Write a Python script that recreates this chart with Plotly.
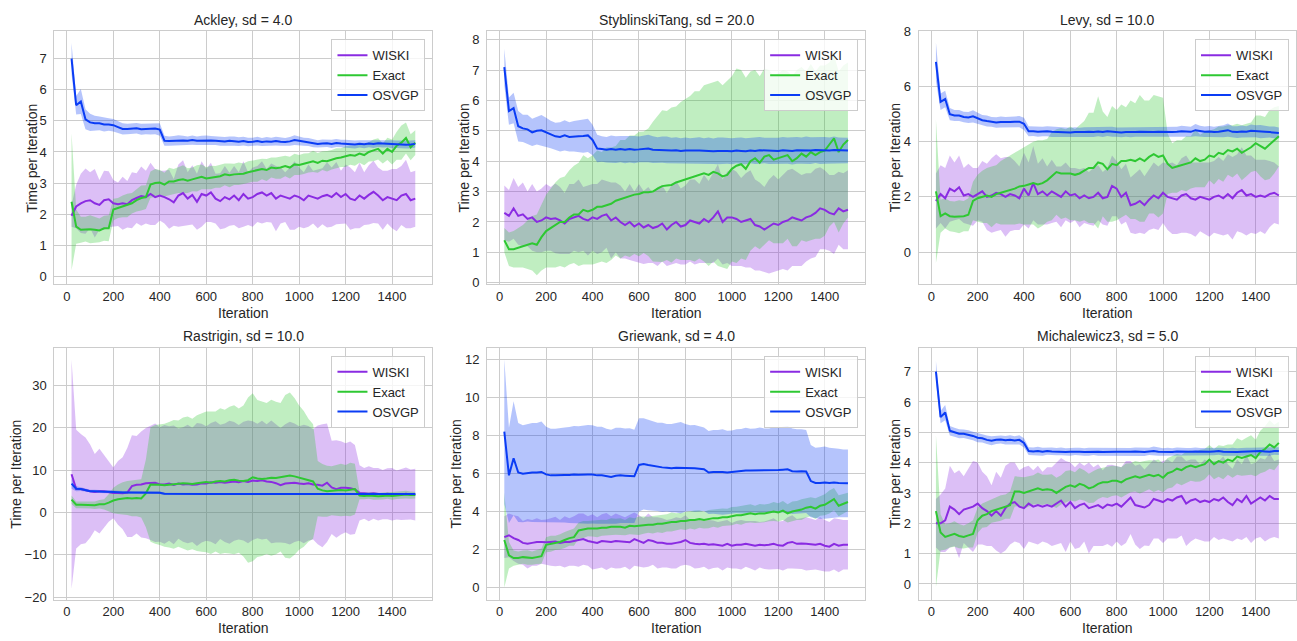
import plotly.graph_objects as go

# ---------------- data ----------------
iterations = list(range(20, 1501, 20))  # 75 points
series_names = ["WISKI", "Exact", "OSVGP"]
titles = ["Ackley, sd = 4.0", "StyblinskiTang, sd = 20.0", "Levy, sd = 10.0",
          "Rastrigin, sd = 10.0", "Griewank, sd = 4.0", "Michalewicz3, sd = 5.0"]
x_ticks = [0, 200, 400, 600, 800, 1000, 1200, 1400]
y_ticks = [[0, 1, 2, 3, 4, 5, 6, 7], [0, 1, 2, 3, 4, 5, 6, 7, 8], [0, 2, 4, 6, 8],
           [-20, -10, 0, 10, 20, 30], [0, 2, 4, 6, 8, 10, 12], [0, 1, 2, 3, 4, 5, 6, 7]]

# Ackley
ack_wiski_mean = [
    1.95, 2.25, 2.35, 2.42, 2.45, 2.35, 2.30, 2.45, 2.48, 2.35,
    2.32, 2.35, 2.32, 2.45, 2.52, 2.58, 2.55, 2.65, 2.55, 2.60,
    2.55, 2.48, 2.38, 2.60, 2.68, 2.50, 2.62, 2.40, 2.65, 2.60,
    2.70, 2.50, 2.42, 2.55, 2.48, 2.60, 2.45, 2.65, 2.50, 2.55,
    2.65, 2.70, 2.60, 2.68, 2.50, 2.60, 2.55, 2.50, 2.60, 2.55,
    2.45, 2.60, 2.55, 2.50, 2.58, 2.62, 2.55, 2.68, 2.55, 2.65,
    2.50, 2.45, 2.60, 2.50, 2.62, 2.72, 2.60, 2.45, 2.55, 2.50,
    2.45, 2.60, 2.65, 2.45, 2.50]
ack_wiski_sd = [
    0.35, 0.70, 0.95, 1.05, 0.90, 1.10, 0.80, 0.95, 0.90, 0.75,
    0.70, 0.85, 0.75, 0.90, 0.80, 0.95, 0.85, 1.00, 0.90, 0.80,
    0.85, 0.95, 0.75, 1.00, 1.05, 0.85, 0.95, 0.90, 1.05, 0.85,
    0.95, 0.80, 0.90, 1.00, 0.85, 0.95, 0.90, 1.05, 0.85, 0.95,
    0.90, 1.00, 0.85, 0.95, 1.05, 0.90, 0.80, 1.00, 1.10, 0.95,
    0.90, 1.00, 0.85, 0.95, 0.90, 1.05, 0.95, 1.00, 0.85, 0.95,
    1.00, 0.90, 1.05, 0.85, 0.95, 1.00, 0.90, 0.95, 0.85, 0.95,
    1.00, 0.95, 1.10, 0.90, 0.90]
ack_exact_mean = [
    2.40, 1.60, 1.50, 1.52, 1.52, 1.50, 1.48, 1.55, 1.55, 2.15,
    2.20, 2.25, 2.28, 2.35, 2.45, 2.52, 2.55, 2.95, 3.00, 3.02,
    2.95, 3.05, 3.05, 3.10, 3.12, 3.08, 3.12, 3.15, 3.20, 3.15,
    3.18, 3.20, 3.22, 3.28, 3.25, 3.28, 3.30, 3.30, 3.35, 3.38,
    3.40, 3.45, 3.42, 3.50, 3.48, 3.50, 3.55, 3.50, 3.60, 3.58,
    3.62, 3.65, 3.70, 3.65, 3.72, 3.70, 3.75, 3.80, 3.82, 3.85,
    3.90, 3.88, 3.95, 3.90, 4.00, 4.05, 4.10, 3.95, 4.10, 4.00,
    4.20, 4.30, 4.45, 4.15, 4.30]
ack_exact_sd = [
    2.20, 0.55, 0.42, 0.40, 0.45, 0.42, 0.38, 0.40, 0.42, 0.35,
    0.32, 0.35, 0.38, 0.33, 0.36, 0.40, 0.38, 0.42, 0.45, 0.40,
    0.38, 0.44, 0.40, 0.42, 0.45, 0.40, 0.38, 0.42, 0.40, 0.36,
    0.38, 0.35, 0.37, 0.35, 0.38, 0.34, 0.36, 0.33, 0.35, 0.34,
    0.36, 0.33, 0.35, 0.32, 0.34, 0.36, 0.33, 0.35, 0.34, 0.32,
    0.33, 0.31, 0.34, 0.32, 0.30, 0.33, 0.31, 0.32, 0.30, 0.33,
    0.31, 0.32, 0.30, 0.33, 0.31, 0.35, 0.34, 0.32, 0.36, 0.40,
    0.45, 0.55, 0.50, 0.42, 0.40]
ack_osvgp_mean = [
    7.00, 5.50, 5.62, 5.05, 4.95, 4.92, 4.92, 4.88, 4.88, 4.86,
    4.80, 4.74, 4.74, 4.75, 4.76, 4.73, 4.74, 4.74, 4.75, 4.72,
    4.36, 4.35, 4.36, 4.38, 4.37, 4.36, 4.38, 4.36, 4.37, 4.38,
    4.37, 4.36, 4.35, 4.34, 4.36, 4.35, 4.33, 4.35, 4.32, 4.33,
    4.35, 4.32, 4.34, 4.33, 4.35, 4.33, 4.32, 4.34, 4.38, 4.36,
    4.33, 4.32, 4.28, 4.26, 4.27, 4.28, 4.26, 4.29, 4.27, 4.26,
    4.25, 4.24, 4.26, 4.25, 4.27, 4.26, 4.28, 4.27, 4.27, 4.25,
    4.25, 4.24, 4.23, 4.24, 4.26]
ack_osvgp_sd = [
    0.50, 0.30, 0.40, 0.32, 0.28, 0.24, 0.22, 0.22, 0.20, 0.20,
    0.18, 0.18, 0.17, 0.18, 0.17, 0.18, 0.17, 0.18, 0.18, 0.20,
    0.16, 0.15, 0.15, 0.16, 0.15, 0.14, 0.15, 0.14, 0.15, 0.15,
    0.14, 0.14, 0.15, 0.14, 0.14, 0.15, 0.14, 0.14, 0.14, 0.13,
    0.14, 0.13, 0.14, 0.13, 0.14, 0.13, 0.13, 0.14, 0.16, 0.14,
    0.13, 0.13, 0.13, 0.12, 0.13, 0.12, 0.13, 0.13, 0.12, 0.13,
    0.12, 0.13, 0.12, 0.13, 0.12, 0.13, 0.12, 0.13, 0.12, 0.13,
    0.12, 0.13, 0.12, 0.13, 0.12]

# StyblinskiTang
st_wiski_mean = [
    2.30, 2.20, 2.45, 2.20, 2.25, 2.10, 2.15, 2.00, 2.05, 2.15,
    2.10, 2.12, 2.05, 1.95, 2.10, 2.15, 2.20, 2.10, 2.05, 2.15,
    2.10, 2.20, 2.25, 2.05, 2.15, 2.00, 1.90, 2.00, 1.85, 1.95,
    1.82, 1.90, 1.80, 1.85, 1.95, 1.75, 1.90, 2.00, 1.85, 1.90,
    2.05, 2.00, 1.95, 2.10, 2.00, 2.15, 2.35, 2.00, 2.15, 2.15,
    2.10, 2.00, 2.05, 2.10, 1.90, 1.85, 1.75, 1.85, 1.95, 1.90,
    2.00, 2.05, 2.15, 2.10, 2.05, 2.15, 2.20, 2.30, 2.45, 2.40,
    2.30, 2.25, 2.45, 2.35, 2.40]
st_wiski_sd = [
    0.90, 0.85, 1.00, 0.95, 1.05, 0.90, 1.10, 1.00, 1.05, 1.10,
    1.05, 1.15, 1.10, 1.00, 1.15, 1.10, 1.20, 1.05, 1.15, 1.10,
    1.15, 1.20, 1.10, 1.25, 1.15, 1.20, 1.10, 1.25, 1.15, 1.30,
    1.20, 1.25, 1.15, 1.30, 1.25, 1.20, 1.30, 1.35, 1.25, 1.30,
    1.35, 1.40, 1.30, 1.45, 1.35, 1.50, 1.55, 1.40, 1.50, 1.60,
    1.55, 1.45, 1.55, 1.60, 1.50, 1.45, 1.40, 1.55, 1.60, 1.50,
    1.55, 1.65, 1.60, 1.55, 1.50, 1.45, 1.40, 1.45, 1.35, 1.30,
    1.25, 1.30, 1.20, 1.25, 1.30]
st_exact_mean = [
    1.40, 1.10, 1.10, 1.15, 1.20, 1.25, 1.30, 1.25, 1.50, 1.70,
    1.80, 1.90, 2.00, 2.00, 2.15, 2.25, 2.25, 2.40, 2.35, 2.40,
    2.50, 2.50, 2.55, 2.60, 2.70, 2.75, 2.80, 2.85, 2.90, 2.92,
    2.98, 2.98, 3.00, 3.10, 3.18, 3.20, 3.22, 3.30, 3.35, 3.40,
    3.45, 3.50, 3.55, 3.60, 3.55, 3.65, 3.60, 3.50, 3.55, 3.75,
    3.85, 3.90, 3.75, 4.00, 4.10, 3.95, 4.15, 4.20, 4.05, 4.10,
    4.15, 4.20, 4.00, 4.10, 4.25, 4.15, 4.30, 4.20, 4.30, 4.35,
    4.55, 4.75, 4.30, 4.55, 4.70]
st_exact_sd = [
    0.40, 0.55, 0.60, 0.65, 0.70, 0.80, 0.90, 1.00, 1.10, 1.20,
    1.30, 1.40, 1.45, 1.50, 1.55, 1.60, 1.70, 1.80, 1.75, 1.80,
    1.85, 1.80, 1.90, 1.85, 1.80, 1.95, 1.90, 2.00, 1.95, 2.05,
    2.00, 2.10, 2.30, 2.40, 2.50, 2.45, 2.55, 2.50, 2.60, 2.65,
    2.70, 2.80, 2.75, 2.90, 3.00, 2.95, 3.05, 3.00, 3.10, 3.05,
    3.20, 3.10, 3.00, 2.95, 2.90, 2.85, 2.90, 2.80, 2.75, 2.80,
    2.85, 2.75, 2.80, 2.90, 2.85, 2.80, 2.90, 2.75, 2.85, 2.80,
    2.70, 2.75, 2.65, 2.60, 2.55]
st_osvgp_mean = [
    7.10, 5.65, 5.75, 5.15, 5.08, 5.05, 4.95, 5.00, 5.02, 4.95,
    4.88, 4.82, 4.80, 4.85, 4.80, 4.82, 4.82, 4.83, 4.85, 4.70,
    4.42, 4.40, 4.38, 4.40, 4.38, 4.40, 4.38, 4.40, 4.38, 4.39,
    4.40, 4.42, 4.38, 4.37, 4.38, 4.37, 4.35, 4.36, 4.34, 4.35,
    4.34, 4.35, 4.35, 4.34, 4.35, 4.33, 4.34, 4.35, 4.34, 4.33,
    4.35, 4.34, 4.33, 4.35, 4.34, 4.36, 4.35, 4.34, 4.35, 4.34,
    4.36, 4.35, 4.34, 4.36, 4.35, 4.36, 4.35, 4.37, 4.36, 4.36,
    4.35, 4.37, 4.36, 4.35, 4.35]
st_osvgp_sd = [
    0.60, 0.45, 0.50, 0.50, 0.45, 0.48, 0.45, 0.45, 0.50, 0.48,
    0.45, 0.45, 0.48, 0.50, 0.48, 0.50, 0.52, 0.55, 0.55, 0.50,
    0.45, 0.42, 0.42, 0.45, 0.44, 0.43, 0.45, 0.44, 0.45, 0.42,
    0.43, 0.45, 0.44, 0.42, 0.43, 0.44, 0.42, 0.43, 0.42, 0.43,
    0.42, 0.43, 0.44, 0.42, 0.43, 0.42, 0.44, 0.43, 0.42, 0.43,
    0.42, 0.44, 0.43, 0.42, 0.43, 0.44, 0.42, 0.43, 0.44, 0.43,
    0.44, 0.43, 0.45, 0.44, 0.43, 0.45, 0.44, 0.43, 0.45, 0.44,
    0.43, 0.44, 0.42, 0.43, 0.42]

# Levy
lv_wiski_mean = [
    1.85, 2.10, 1.95, 2.30, 2.20, 2.35, 2.05, 2.10, 2.00, 2.10,
    2.20, 2.00, 2.05, 2.15, 2.10, 2.00, 2.10, 2.05, 1.95, 2.30,
    2.05, 2.50, 2.10, 2.20, 2.05, 2.20, 2.10, 2.00, 2.20, 2.05,
    2.10, 1.95, 2.05, 1.95, 2.00, 2.15, 1.95, 2.00, 2.40, 2.30,
    2.00, 2.15, 1.70, 1.75, 1.85, 1.70, 1.90, 2.05, 1.95, 2.15,
    2.00, 1.95, 1.90, 2.05, 2.10, 1.95, 1.90, 2.00, 1.95, 1.90,
    2.00, 2.05, 1.95, 2.10, 1.95, 2.15, 2.25, 2.05, 2.10, 2.00,
    2.05, 2.00, 2.10, 2.15, 2.05]
lv_wiski_sd = [
    1.00, 1.05, 1.10, 1.20, 1.05, 1.15, 1.00, 1.10, 1.05, 0.95,
    1.10, 1.20, 1.35, 1.40, 1.30, 1.45, 1.35, 1.25, 1.15, 1.30,
    1.20, 1.35, 1.10, 1.20, 1.05, 1.15, 1.00, 1.10, 1.05, 1.00,
    0.95, 1.05, 1.00, 0.95, 1.05, 1.00, 0.95, 1.05, 1.10, 1.00,
    1.00, 1.05, 1.00, 1.10, 1.15, 1.05, 1.10, 1.20, 1.15, 1.10,
    1.20, 1.30, 1.25, 1.35, 1.40, 1.30, 1.35, 1.25, 1.30, 1.35,
    1.30, 1.40, 1.35, 1.45, 1.50, 1.40, 1.55, 1.45, 1.40, 1.35,
    1.30, 1.35, 1.20, 1.10, 1.05]
lv_exact_mean = [
    2.20, 1.30, 1.40, 1.30, 1.28, 1.28, 1.30, 1.35, 1.85, 1.95,
    2.00, 2.05, 2.00, 2.10, 2.15, 2.20, 2.25, 2.30, 2.38, 2.40,
    2.45, 2.50, 2.45, 2.50, 2.60, 2.75, 2.90, 2.85, 2.85, 2.85,
    2.80, 2.85, 2.95, 3.05, 3.05, 3.25, 3.20, 3.00, 3.20, 3.15,
    3.30, 3.30, 3.35, 3.30, 3.40, 3.30, 3.45, 3.55, 3.45, 3.50,
    3.20, 3.05, 3.10, 3.15, 3.20, 3.25, 3.40, 3.30, 3.35, 3.50,
    3.45, 3.60, 3.55, 3.70, 3.65, 3.75, 3.60, 3.70, 3.80, 3.95,
    3.85, 3.75, 3.90, 4.05, 4.20]
lv_exact_sd = [
    2.60, 0.60, 0.55, 0.55, 0.55, 0.60, 0.55, 0.60, 0.70, 0.85,
    0.95, 1.00, 1.10, 1.05, 1.15, 1.20, 1.25, 1.30, 1.35, 1.40,
    1.45, 1.50, 1.60, 1.55, 1.50, 1.60, 1.55, 1.65, 1.60, 1.70,
    1.65, 1.75, 1.80, 2.00, 2.00, 2.40, 1.90, 1.90, 2.10, 2.00,
    2.05, 1.95, 2.15, 2.10, 2.30, 2.20, 2.05, 2.15, 2.20, 2.10,
    1.10, 0.90, 0.95, 0.90, 1.00, 0.95, 1.05, 0.95, 1.00, 0.90,
    1.00, 0.95, 1.00, 0.90, 0.95, 0.90, 1.00, 0.95, 0.90, 1.00,
    1.10, 1.15, 1.25, 1.20, 1.10]
lv_osvgp_mean = [
    6.90, 5.45, 5.55, 5.00, 4.95, 4.95, 4.90, 4.88, 4.92, 4.85,
    4.78, 4.75, 4.72, 4.70, 4.72, 4.71, 4.72, 4.73, 4.73, 4.65,
    4.38, 4.38, 4.36, 4.37, 4.38, 4.36, 4.35, 4.36, 4.35, 4.34,
    4.35, 4.34, 4.35, 4.36, 4.35, 4.37, 4.35, 4.38, 4.36, 4.35,
    4.34, 4.35, 4.34, 4.35, 4.36, 4.35, 4.34, 4.35, 4.36, 4.35,
    4.34, 4.35, 4.36, 4.38, 4.37, 4.36, 4.42, 4.38, 4.36, 4.37,
    4.35, 4.36, 4.38, 4.42, 4.36, 4.35, 4.37, 4.36, 4.40, 4.38,
    4.37, 4.36, 4.35, 4.34, 4.32]
lv_osvgp_sd = [
    0.70, 0.30, 0.30, 0.22, 0.20, 0.20, 0.19, 0.20, 0.22, 0.20,
    0.19, 0.20, 0.18, 0.19, 0.20, 0.19, 0.18, 0.19, 0.20, 0.22,
    0.18, 0.17, 0.18, 0.17, 0.18, 0.19, 0.18, 0.17, 0.18, 0.17,
    0.18, 0.17, 0.18, 0.17, 0.18, 0.17, 0.18, 0.17, 0.18, 0.17,
    0.18, 0.17, 0.18, 0.17, 0.18, 0.17, 0.18, 0.17, 0.18, 0.17,
    0.18, 0.17, 0.18, 0.20, 0.19, 0.18, 0.22, 0.20, 0.19, 0.20,
    0.19, 0.20, 0.22, 0.24, 0.20, 0.21, 0.22, 0.20, 0.23, 0.22,
    0.24, 0.22, 0.20, 0.21, 0.20]

# Rastrigin
ra_wiski_mean = [
    9.00, 5.50, 5.50, 5.20, 5.00, 4.80, 5.00, 5.00, 4.80, 4.60,
    4.60, 4.50, 4.70, 6.20, 6.50, 6.60, 6.90, 7.00, 7.00, 6.60,
    6.60, 6.80, 6.50, 6.80, 6.60, 6.70, 6.50, 6.60, 6.90, 6.80,
    7.10, 7.00, 7.20, 7.00, 7.10, 7.30, 7.10, 7.40, 7.20, 7.50,
    7.40, 7.60, 7.30, 7.20, 6.90, 6.40, 6.80, 6.90, 7.00, 6.80,
    6.70, 6.90, 6.60, 6.50, 6.30, 7.00, 5.90, 5.50, 5.80, 5.80,
    5.70, 5.40, 4.60, 4.50, 4.40, 4.50, 4.30, 4.20, 4.40, 4.30,
    4.10, 4.20, 4.40, 4.20, 4.20]
ra_wiski_sd = [
    27.0, 14.0, 13.0, 12.5, 11.0, 9.00, 10.0, 8.50, 7.00, 6.00,
    7.50, 8.50, 10.5, 12.0, 11.5, 12.5, 13.0, 13.5, 14.0, 13.5,
    14.0, 13.5, 14.0, 13.0, 13.5, 14.0, 13.5, 14.5, 14.0, 13.5,
    14.0, 14.5, 13.5, 14.0, 14.5, 14.0, 13.5, 14.0, 14.5, 14.0,
    13.5, 14.0, 13.5, 14.5, 14.0, 13.5, 14.0, 14.5, 14.0, 13.5,
    14.0, 13.5, 13.0, 14.0, 14.5, 14.0, 11.0, 11.5, 11.0, 10.5,
    11.0, 10.5, 6.50, 6.00, 6.50, 6.00, 6.20, 5.80, 6.00, 6.20,
    5.80, 6.00, 6.20, 5.90, 6.10]
ra_exact_mean = [
    3.00, 1.80, 1.80, 1.80, 1.80, 1.70, 1.90, 1.90, 2.30, 2.80,
    3.10, 3.30, 3.40, 3.30, 3.40, 3.30, 4.50, 6.60, 6.60, 6.50,
    6.40, 6.50, 6.60, 6.80, 6.90, 6.80, 6.70, 6.90, 7.00, 7.20,
    7.00, 7.30, 7.40, 7.30, 7.60, 7.70, 7.50, 7.40, 7.60, 8.30,
    8.00, 7.90, 8.00, 8.20, 8.10, 8.30, 8.50, 8.70, 8.50, 8.20,
    7.90, 7.60, 7.30, 5.60, 5.20, 5.00, 5.10, 5.20, 5.30, 5.20,
    5.40, 5.50, 4.00, 3.90, 4.00, 3.90, 3.80, 3.90, 4.00, 3.90,
    4.00, 4.10, 4.20, 4.10, 4.10]
ra_exact_sd = [
    1.00, 0.80, 0.80, 0.80, 0.90, 0.90, 1.00, 1.20, 2.00, 3.00,
    3.50, 3.80, 4.00, 4.20, 4.30, 4.50, 8.00, 13.5, 14.0, 14.2,
    14.5, 14.8, 15.2, 14.9, 15.5, 15.8, 15.4, 16.0, 16.3, 16.6,
    16.8, 16.5, 17.2, 16.9, 17.3, 17.6, 17.0, 17.8, 19.5, 19.8,
    18.5, 18.2, 17.8, 18.4, 18.0, 17.5, 19.2, 19.6, 18.5, 17.0,
    16.0, 14.5, 13.5, 6.50, 6.20, 6.00, 5.80, 6.00, 6.20, 6.00,
    6.30, 6.00, 0.90, 0.80, 0.80, 0.90, 0.80, 0.85, 0.80, 0.90,
    0.85, 0.80, 0.90, 0.85, 0.80]
ra_osvgp_mean = [
    6.80, 5.60, 5.50, 5.30, 5.00, 5.00, 4.90, 4.90, 4.90, 4.80,
    4.75, 4.72, 4.70, 4.70, 4.72, 4.70, 4.70, 4.72, 4.70, 4.65,
    4.38, 4.36, 4.35, 4.36, 4.35, 4.34, 4.35, 4.36, 4.35, 4.34,
    4.35, 4.34, 4.35, 4.36, 4.35, 4.34, 4.35, 4.36, 4.35, 4.34,
    4.35, 4.34, 4.35, 4.36, 4.35, 4.34, 4.35, 4.36, 4.35, 4.34,
    4.35, 4.34, 4.35, 4.36, 4.35, 4.34, 4.35, 4.36, 4.35, 4.34,
    4.35, 4.34, 4.35, 4.36, 4.35, 4.34, 4.35, 4.36, 4.35, 4.34,
    4.35, 4.34, 4.35, 4.36, 4.35]
ra_osvgp_sd = [
    1.20, 0.60, 0.45, 0.40, 0.35, 0.35, 0.30, 0.30, 0.30, 0.30,
    0.30, 0.30, 0.28, 0.28, 0.28, 0.28, 0.28, 0.28, 0.28, 0.28,
    0.25, 0.25, 0.25, 0.25, 0.25, 0.25, 0.25, 0.25, 0.25, 0.25,
    0.25, 0.25, 0.25, 0.25, 0.25, 0.25, 0.25, 0.25, 0.25, 0.25,
    0.25, 0.25, 0.25, 0.25, 0.25, 0.25, 0.25, 0.25, 0.25, 0.25,
    0.25, 0.25, 0.25, 0.25, 0.25, 0.25, 0.25, 0.25, 0.25, 0.25,
    0.25, 0.25, 0.25, 0.25, 0.25, 0.25, 0.25, 0.25, 0.25, 0.25,
    0.25, 0.25, 0.25, 0.25, 0.25]

# Griewank
gr_wiski_mean = [
    2.65, 2.75, 2.60, 2.50, 2.35, 2.30, 2.35, 2.40, 2.40, 2.38,
    2.40, 2.42, 2.35, 2.40, 2.40, 2.45, 2.50, 2.55, 2.45, 2.40,
    2.35, 2.45, 2.42, 2.40, 2.45, 2.42, 2.40, 2.38, 2.55, 2.45,
    2.35, 2.50, 2.45, 2.35, 2.35, 2.30, 2.30, 2.35, 2.40, 2.50,
    2.35, 2.30, 2.28, 2.30, 2.25, 2.28, 2.25, 2.20, 2.30, 2.20,
    2.25, 2.25, 2.30, 2.25, 2.20, 2.25, 2.22, 2.25, 2.30, 2.22,
    2.20, 2.35, 2.40, 2.30, 2.32, 2.30, 2.28, 2.25, 2.30, 2.20,
    2.15, 2.30, 2.20, 2.25, 2.25]
gr_wiski_sd = [
    1.10, 1.15, 1.20, 1.25, 1.15, 1.30, 1.20, 1.25, 1.15, 1.20,
    1.25, 1.30, 1.20, 1.35, 1.25, 1.30, 1.40, 1.35, 1.30, 1.45,
    1.35, 1.40, 1.50, 1.35, 1.45, 1.40, 1.30, 1.45, 1.40, 1.35,
    1.30, 1.40, 1.25, 1.35, 1.30, 1.25, 1.30, 1.35, 1.25, 1.30,
    1.20, 1.30, 1.25, 1.20, 1.30, 1.25, 1.20, 1.30, 1.25, 1.20,
    1.25, 1.30, 1.20, 1.25, 1.30, 1.20, 1.25, 1.30, 1.35, 1.25,
    1.30, 1.35, 1.40, 1.30, 1.35, 1.40, 1.35, 1.30, 1.40, 1.35,
    1.30, 1.35, 1.40, 1.30, 1.30]
gr_exact_mean = [
    2.50, 1.70, 1.55, 1.55, 1.60, 1.58, 1.55, 1.60, 1.65, 2.25,
    2.30, 2.35, 2.40, 2.50, 2.60, 2.65, 3.00, 3.05, 3.10, 3.10,
    3.10, 3.15, 3.15, 3.20, 3.20, 3.20, 3.15, 3.25, 3.22, 3.25,
    3.28, 3.30, 3.30, 3.35, 3.35, 3.40, 3.45, 3.45, 3.50, 3.50,
    3.55, 3.55, 3.60, 3.55, 3.60, 3.65, 3.65, 3.70, 3.70, 3.75,
    3.80, 3.80, 3.85, 3.90, 3.85, 3.90, 3.90, 3.95, 4.00, 3.95,
    4.05, 3.90, 4.00, 4.05, 4.10, 4.20, 4.25, 4.15, 4.30, 4.35,
    4.50, 4.65, 4.30, 4.40, 4.50]
gr_exact_sd = [
    2.50, 0.70, 0.40, 0.35, 0.35, 0.38, 0.35, 0.36, 0.40, 0.40,
    0.42, 0.38, 0.40, 0.42, 0.40, 0.45, 0.42, 0.45, 0.40, 0.42,
    0.45, 0.42, 0.40, 0.45, 0.42, 0.44, 0.40, 0.45, 0.42, 0.48,
    0.45, 0.42, 0.46, 0.44, 0.48, 0.45, 0.50, 0.46, 0.44, 0.48,
    0.45, 0.50, 0.46, 0.44, 0.48, 0.45, 0.50, 0.46, 0.44, 0.48,
    0.45, 0.50, 0.46, 0.48, 0.45, 0.50, 0.47, 0.46, 0.50, 0.48,
    0.50, 0.48, 0.52, 0.50, 0.55, 0.52, 0.50, 0.55, 0.52, 0.55,
    0.60, 0.58, 0.55, 0.50, 0.48]
gr_osvgp_mean = [
    8.20, 5.90, 6.80, 6.05, 5.98, 6.02, 6.05, 6.05, 6.08, 5.95,
    5.90, 5.90, 5.92, 5.92, 5.92, 5.95, 5.93, 5.95, 5.95, 5.95,
    5.90, 5.90, 5.85, 5.82, 5.88, 5.90, 5.88, 5.88, 5.85, 6.45,
    6.50, 6.45, 6.40, 6.35, 6.32, 6.30, 6.28, 6.30, 6.30, 6.30,
    6.28, 6.27, 6.25, 6.22, 6.05, 6.08, 6.07, 6.08, 6.05, 6.08,
    6.12, 6.12, 6.15, 6.15, 6.15, 6.17, 6.15, 6.17, 6.18, 6.18,
    6.20, 6.22, 6.12, 6.10, 6.12, 6.10, 5.60, 5.50, 5.50, 5.52,
    5.50, 5.52, 5.50, 5.48, 5.48]
gr_osvgp_sd = [
    3.80, 2.50, 3.00, 2.60, 2.55, 2.55, 2.60, 2.60, 2.65, 2.50,
    2.45, 2.45, 2.48, 2.50, 2.52, 2.55, 2.55, 2.58, 2.60, 2.58,
    2.55, 2.55, 2.50, 2.48, 2.52, 2.50, 2.48, 2.50, 2.45, 2.45,
    2.40, 2.38, 2.35, 2.32, 2.35, 2.30, 2.32, 2.35, 2.40, 2.30,
    2.25, 2.28, 2.25, 2.20, 2.18, 2.20, 2.22, 2.25, 2.20, 2.18,
    2.20, 2.22, 2.25, 2.20, 2.22, 2.25, 2.22, 2.20, 2.25, 2.22,
    2.25, 2.28, 2.25, 2.22, 2.20, 2.18, 1.90, 1.85, 1.88, 1.90,
    1.85, 1.82, 1.80, 1.78, 1.78]

# Michalewicz3
mi_wiski_mean = [
    2.00, 2.00, 2.10, 2.55, 2.45, 2.30, 2.45, 2.50, 2.55, 2.65,
    2.50, 2.40, 2.25, 2.40, 2.25, 2.50, 2.65, 2.70, 2.55, 2.50,
    2.65, 2.55, 2.60, 2.55, 2.60, 2.55, 2.65, 2.75, 2.55, 2.70,
    2.50, 2.60, 2.65, 2.50, 2.55, 2.60, 2.50, 2.62, 2.58, 2.65,
    2.55, 2.70, 2.85, 2.60, 2.55, 2.52, 2.60, 2.80, 2.75, 2.70,
    2.80, 2.75, 2.85, 2.90, 2.65, 2.75, 2.80, 2.70, 2.75, 2.70,
    2.80, 2.75, 2.85, 2.70, 2.60, 2.80, 2.70, 2.90, 2.65, 2.75,
    2.85, 2.75, 2.90, 2.80, 2.80]
mi_wiski_sd = [
    0.80, 0.95, 1.05, 1.35, 1.20, 1.45, 1.10, 1.30, 1.50, 1.35,
    1.20, 1.15, 1.00, 1.30, 1.25, 1.40, 1.35, 1.30, 1.20, 1.35,
    1.25, 1.20, 1.30, 1.15, 1.25, 1.30, 1.35, 1.40, 1.50, 1.30,
    1.35, 1.40, 1.25, 1.50, 1.30, 1.35, 1.25, 1.30, 1.35, 1.25,
    1.30, 1.35, 1.20, 1.30, 1.40, 1.25, 1.35, 1.30, 1.25, 1.35,
    1.30, 1.25, 1.35, 1.30, 1.40, 1.35, 1.30, 1.25, 1.35, 1.30,
    1.25, 1.30, 1.35, 1.25, 1.20, 1.30, 1.25, 1.35, 1.30, 1.25,
    1.30, 1.35, 1.40, 1.25, 1.30]
mi_exact_mean = [
    2.40, 1.70, 1.55, 1.60, 1.65, 1.58, 1.55, 1.60, 1.65, 2.10,
    2.25, 2.30, 2.40, 2.45, 2.50, 2.55, 2.60, 3.05, 3.05, 3.00,
    3.05, 3.10, 3.15, 3.10, 3.12, 3.10, 3.00, 3.10, 3.20, 3.25,
    3.20, 3.30, 3.25, 3.15, 3.20, 3.30, 3.35, 3.35, 3.40, 3.40,
    3.35, 3.45, 3.50, 3.55, 3.50, 3.55, 3.60, 3.55, 3.60, 3.50,
    3.65, 3.70, 3.80, 3.75, 3.85, 3.90, 3.85, 3.90, 3.95, 4.10,
    3.95, 4.05, 4.00, 4.10, 4.05, 4.20, 4.15, 4.20, 4.25, 4.15,
    4.35, 4.45, 4.60, 4.50, 4.65]
mi_exact_sd = [
    2.50, 0.60, 0.42, 0.40, 0.42, 0.40, 0.38, 0.40, 0.45, 0.42,
    0.40, 0.42, 0.38, 0.40, 0.42, 0.40, 0.45, 0.50, 0.48, 0.52,
    0.50, 0.48, 0.52, 0.50, 0.48, 0.52, 0.50, 0.48, 0.52, 0.50,
    0.48, 0.52, 0.50, 0.48, 0.52, 0.50, 0.48, 0.52, 0.50, 0.48,
    0.50, 0.52, 0.48, 0.50, 0.52, 0.50, 0.48, 0.52, 0.50, 0.48,
    0.50, 0.52, 0.48, 0.50, 0.52, 0.50, 0.48, 0.52, 0.50, 0.48,
    0.50, 0.52, 0.55, 0.50, 0.55, 0.60, 0.58, 0.62, 0.65, 0.60,
    0.70, 0.75, 0.80, 0.75, 0.70]
mi_osvgp_mean = [
    7.00, 5.50, 5.65, 5.05, 5.00, 4.95, 4.95, 4.92, 4.88, 4.82,
    4.80, 4.75, 4.72, 4.75, 4.76, 4.74, 4.75, 4.73, 4.75, 4.65,
    4.38, 4.37, 4.38, 4.36, 4.38, 4.37, 4.36, 4.37, 4.35, 4.36,
    4.37, 4.36, 4.35, 4.36, 4.37, 4.36, 4.35, 4.36, 4.35, 4.36,
    4.36, 4.35, 4.36, 4.37, 4.36, 4.35, 4.37, 4.38, 4.36, 4.35,
    4.36, 4.35, 4.37, 4.36, 4.35, 4.36, 4.37, 4.36, 4.35, 4.36,
    4.37, 4.38, 4.36, 4.35, 4.36, 4.35, 4.36, 4.37, 4.36, 4.37,
    4.38, 4.37, 4.36, 4.38, 4.38]
mi_osvgp_sd = [
    0.35, 0.20, 0.25, 0.16, 0.15, 0.15, 0.14, 0.15, 0.14, 0.15,
    0.14, 0.14, 0.15, 0.14, 0.13, 0.14, 0.15, 0.14, 0.15, 0.15,
    0.13, 0.13, 0.14, 0.13, 0.12, 0.13, 0.12, 0.13, 0.12, 0.13,
    0.12, 0.13, 0.12, 0.13, 0.12, 0.13, 0.12, 0.13, 0.12, 0.13,
    0.12, 0.13, 0.12, 0.13, 0.14, 0.13, 0.12, 0.15, 0.13, 0.12,
    0.13, 0.12, 0.13, 0.12, 0.13, 0.12, 0.13, 0.12, 0.13, 0.12,
    0.13, 0.12, 0.13, 0.12, 0.13, 0.12, 0.13, 0.12, 0.13, 0.12,
    0.13, 0.12, 0.13, 0.12, 0.13]

panel_data = [
    [(ack_wiski_mean, ack_wiski_sd), (ack_exact_mean, ack_exact_sd), (ack_osvgp_mean, ack_osvgp_sd)],
    [(st_wiski_mean, st_wiski_sd), (st_exact_mean, st_exact_sd), (st_osvgp_mean, st_osvgp_sd)],
    [(lv_wiski_mean, lv_wiski_sd), (lv_exact_mean, lv_exact_sd), (lv_osvgp_mean, lv_osvgp_sd)],
    [(ra_wiski_mean, ra_wiski_sd), (ra_exact_mean, ra_exact_sd), (ra_osvgp_mean, ra_osvgp_sd)],
    [(gr_wiski_mean, gr_wiski_sd), (gr_exact_mean, gr_exact_sd), (gr_osvgp_mean, gr_osvgp_sd)],
    [(mi_wiski_mean, mi_wiski_sd), (mi_exact_mean, mi_exact_sd), (mi_osvgp_mean, mi_osvgp_sd)],
]

# ---------------- style / layout ----------------
W, H = 1297, 641
COLS = [(54.4, 432.8), (487.5, 865.8), (919.5, 1297.0)]
ROWS = [(25.0, 283.0), (348.0, 605.0)]
Y_RANGES = [[-0.25, 7.87], [-0.05, 8.27], [-1.17, 8.0],
            [-20.6, 38.8], [-0.64, 12.6], [-0.52, 7.78]]
X_RANGE = [-54, 1574]
YTITLE_X = [32, 464, 896, 16, 456, 896]
LINE_COLORS = ["#8a2be2", "#2ec832", "#0a3cf5"]
FILL_COLORS = ["rgba(138,43,226,0.3)", "rgba(46,200,50,0.3)", "rgba(10,60,245,0.3)"]
FONT = "Liberation Sans, Arial, sans-serif"
TXT = "#262626"
GRID = "#cccccc"

fig = go.Figure()
layout = dict(width=W, height=H, margin=dict(l=0, r=0, t=0, b=0),
              plot_bgcolor="white", paper_bgcolor="white",
              font=dict(family=FONT, color=TXT, size=13), showlegend=True)
annotations = []

for p in range(6):
    r, c = divmod(p, 3)
    xl, xr = COLS[c]
    yt, yb = ROWS[r]
    sfx = "" if p == 0 else str(p + 1)
    xa, ya = "x" + sfx, "y" + sfx
    leg = "legend" + sfx

    # bands
    for s in range(3):
        mean, sd = panel_data[p][s]
        upper = [m + d for m, d in zip(mean, sd)]
        lower = [m - d for m, d in zip(mean, sd)]
        fig.add_trace(go.Scatter(x=iterations, y=upper, mode="lines", line=dict(width=0),
                                 showlegend=False, hoverinfo="skip", xaxis=xa, yaxis=ya, legend=leg))
        fig.add_trace(go.Scatter(x=iterations, y=lower, mode="lines", line=dict(width=0),
                                 fill="tonexty", fillcolor=FILL_COLORS[s],
                                 showlegend=False, hoverinfo="skip", xaxis=xa, yaxis=ya, legend=leg))
    # mean lines
    for s in range(3):
        mean, sd = panel_data[p][s]
        fig.add_trace(go.Scatter(x=iterations, y=mean, mode="lines", name=series_names[s],
                                 line=dict(color=LINE_COLORS[s], width=2),
                                 xaxis=xa, yaxis=ya, legend=leg))

    axcommon = dict(showgrid=True, gridcolor=GRID, gridwidth=1, zeroline=False,
                    showline=True, linecolor=GRID, linewidth=1.25, mirror=True,
                    ticks="", tickfont=dict(size=13, color=TXT, family=FONT))
    layout["xaxis" + sfx] = dict(axcommon, domain=[xl / W, xr / W], range=X_RANGE,
                                 tickvals=x_ticks, anchor=ya, ticklabelstandoff=0)
    layout["yaxis" + sfx] = dict(axcommon, domain=[1 - yb / H, 1 - yt / H], range=Y_RANGES[p],
                                 tickvals=y_ticks[p], anchor=xa, ticklabelstandoff=4)
    layout[leg] = dict(x=(xr - 7) / W, y=1 - (yt + 8) / H, xanchor="right", yanchor="top",
                       bgcolor="rgba(255,255,255,0.8)", bordercolor=GRID, borderwidth=1,
                       font=dict(size=13, color=TXT, family=FONT), tracegroupgap=0,
                       traceorder="normal")

    cx = (xl + xr) / 2
    annotations.append(dict(text=titles[p], x=cx / W, y=1 - (yt - 2) / H, xref="paper", yref="paper",
                            xanchor="center", yanchor="bottom", showarrow=False,
                            font=dict(size=14, color=TXT, family=FONT)))
    annotations.append(dict(text="Iteration", x=cx / W, y=1 - (yb + 29) / H, xref="paper", yref="paper",
                            xanchor="center", yanchor="middle", showarrow=False,
                            font=dict(size=14, color=TXT, family=FONT)))
    annotations.append(dict(text="Time per Iteration", x=YTITLE_X[p] / W, y=1 - ((yt + yb) / 2) / H,
                            xref="paper", yref="paper", xanchor="center", yanchor="middle",
                            textangle=-90, showarrow=False,
                            font=dict(size=14, color=TXT, family=FONT)))

layout["annotations"] = annotations
fig.update_layout(**layout)
fig.write_html("out.html", config={"displayModeBar": False},
               post_script="document.body.style.margin='0px';document.body.style.overflow='hidden';")
